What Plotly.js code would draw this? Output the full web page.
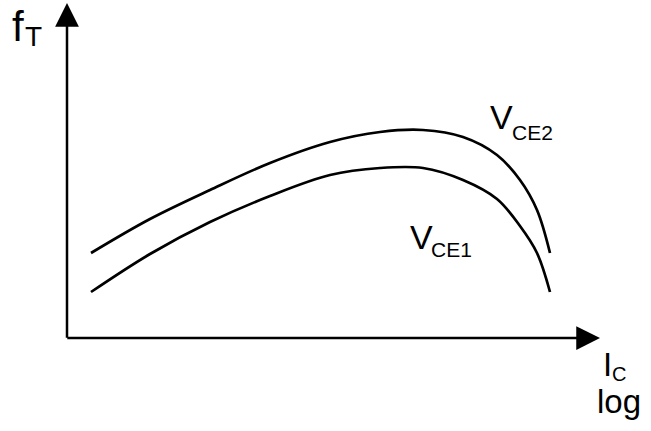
<!DOCTYPE html>
<html>
<head>
<meta charset="utf-8">
<script src="https://cdn.plot.ly/plotly-3.0.1.min.js"></script>
<style>
  html, body { margin: 0; padding: 0; background: #ffffff; }
  #chart { width: 651px; height: 431px; }
</style>
</head>
<body>
<div id="chart"></div>
<script>
// Transition frequency f_T versus collector current I_C (log scale),
// for two collector-emitter voltages. Units are arbitrary (sketch).
const logIc2 = [24, 83, 143, 203, 263, 313, 356, 396, 430, 453, 470, 483];
const fT_vce2 = [85, 119, 148, 175, 196, 206, 208, 201, 183, 158, 128, 85];

const logIc1 = [24, 83, 143, 203, 263, 313, 356, 396, 430, 453, 470, 483];
const fT_vce1 = [46, 84, 116, 142, 163, 170, 170, 158, 139, 112, 85, 46];

// axis extents (tip of each arrow)
const xAxisEnd = 533;
const yAxisEnd = 335;

const FONT = "Liberation Sans, Arial, sans-serif";

const curve = (x, y, name) => ({
  x: x, y: y, name: name,
  type: 'scatter', mode: 'lines',
  line: { color: '#000000', width: 2.7, shape: 'spline', smoothing: 1 },
  hoverinfo: 'skip'
});

const data = [
  curve(logIc2, fT_vce2, 'VCE2'),
  curve(logIc1, fT_vce1, 'VCE1')
];

const arrow = (tipX, tipY, tailX, tailY) => ({
  x: tipX, y: tipY, ax: tailX, ay: tailY,
  xref: 'x', yref: 'y', axref: 'x', ayref: 'y',
  text: '', showarrow: true,
  arrowhead: 2, arrowsize: 1.9, arrowwidth: 2.5,
  arrowcolor: '#000000', standoff: 0, startstandoff: 0
});

// plain text placed by its top-left corner, in pixels
const label = (text, px, py, size) => ({
  text: text, xref: 'paper', yref: 'paper',
  x: px / 651, y: 1 - py / 431,
  xanchor: 'left', yanchor: 'top',
  showarrow: false, borderpad: 0,
  font: { family: FONT, size: size, color: '#000000' }
});

const layout = {
  width: 651, height: 431,
  margin: { l: 0, r: 0, t: 0, b: 0 },
  paper_bgcolor: '#ffffff', plot_bgcolor: '#ffffff',
  showlegend: false,
  xaxis: { range: [-67, 584], visible: false, fixedrange: true },
  yaxis: { range: [-93, 338], visible: false, fixedrange: true },
  annotations: [
    arrow(xAxisEnd, 0, -1.2, 0),
    arrow(0, yAxisEnd, 0, -1.2),
    // y-axis name f_T
    label('f', 11, 2, 42),
    label('T', 23.5, 20, 28),
    // curve names
    label('V', 489, 97, 34),
    label('CE2', 511, 120, 21),
    label('V', 409, 217, 34),
    label('CE1', 430, 237, 21),
    // x-axis name I_C, log scale
    label('I', 602, 345, 33),
    label('C', 611, 362, 20),
    label('log', 596, 382, 33)
  ]
};

Plotly.newPlot('chart', data, layout, { staticPlot: true, displayModeBar: false });
</script>
</body>
</html>
